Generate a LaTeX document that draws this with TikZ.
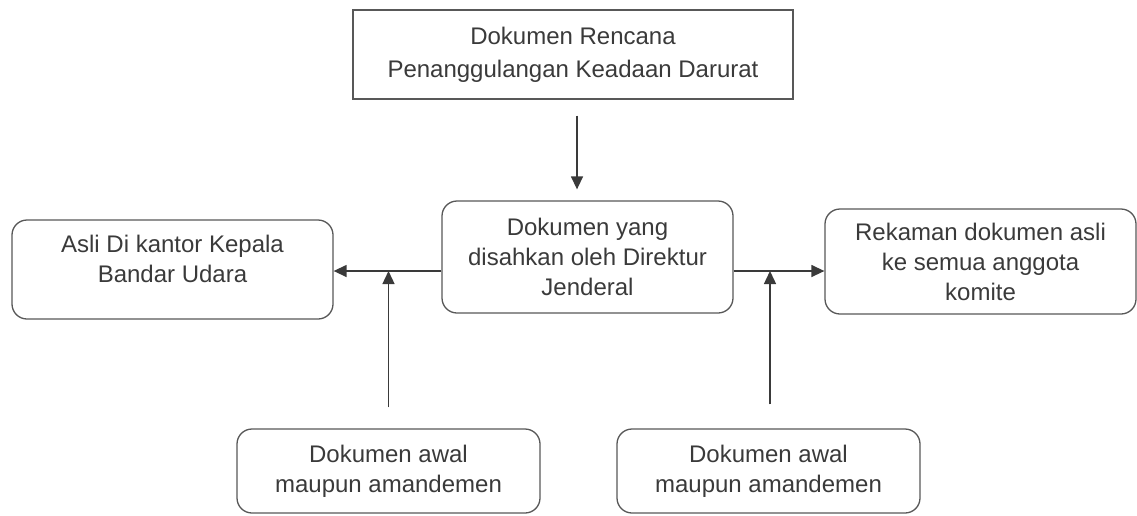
\documentclass[tikz,border=0pt]{standalone}
\usepackage{fontspec}
\setmainfont{Liberation Sans}
\usetikzlibrary{arrows.meta,calc}
\definecolor{color0}{HTML}{3A3A3A}
\colorlet{l-color0}{color0!85}

\tikzset{
  box/.style={draw=l-color0, line width=1.3pt, align=center, text=color0,
    font=\fontsize{24}{30}\selectfont, inner sep=0pt},
  rbox/.style={box, rounded corners=15pt},
  arr/.style={draw=color0, line width=1.4pt, -{Triangle[length=13pt,width=12pt]}},
}

\begin{document}
\begin{tikzpicture}[x=1pt, y=-1pt]
  \useasboundingbox (0,0) rectangle (1137,515);
  \node[box, minimum width=440pt, minimum height=89pt] (rencana) at (573, 54.5)
    {Dokumen Rencana\\[3pt]Penanggulangan Keadaan Darurat};
  \node[rbox, minimum width=291pt, minimum height=112pt] (disahkan) at (587.5, 257)
    {Dokumen yang\\disahkan oleh Direktur\\Jenderal};
  \node[rbox, minimum width=321pt, minimum height=99pt] (asli) at (172.5, 269.5)
    {Asli Di kantor Kepala\\Bandar Udara\\[-8pt]\mbox{}};
  \node[rbox, minimum width=311pt, minimum height=105pt] (rekaman) at (980.5, 261.5)
    {Rekaman dokumen asli\\ke semua anggota\\komite};
  \node[rbox, minimum width=303pt, minimum height=84pt] (awal-a) at (388.5, 471)
    {Dokumen awal\\maupun amandemen};
  \node[rbox, minimum width=303pt, minimum height=84pt] (awal-b) at (768.5, 471)
    {Dokumen awal\\maupun amandemen};

  \coordinate (kiri) at ([yshift=-14pt]disahkan.west);
  \coordinate (kanan) at ([yshift=-14pt]disahkan.east);

  \draw[arr, shorten <=16pt, shorten >=11pt] ([xshift=4pt]rencana.south) -- ([xshift=4pt]rencana.south |- disahkan.north);
  \draw[arr] (kiri) -- (kiri -| asli.east);
  \draw[arr] (kanan) -- (kanan -| rekaman.west);
  \draw[arr, shorten <=21pt] (awal-a.north) -- (awal-a.north |- kiri);
  \draw[arr, shorten <=24pt] ([xshift=1.5pt]awal-b.north) -- ([xshift=1.5pt]awal-b.north |- kanan);
\end{tikzpicture}
\end{document}
